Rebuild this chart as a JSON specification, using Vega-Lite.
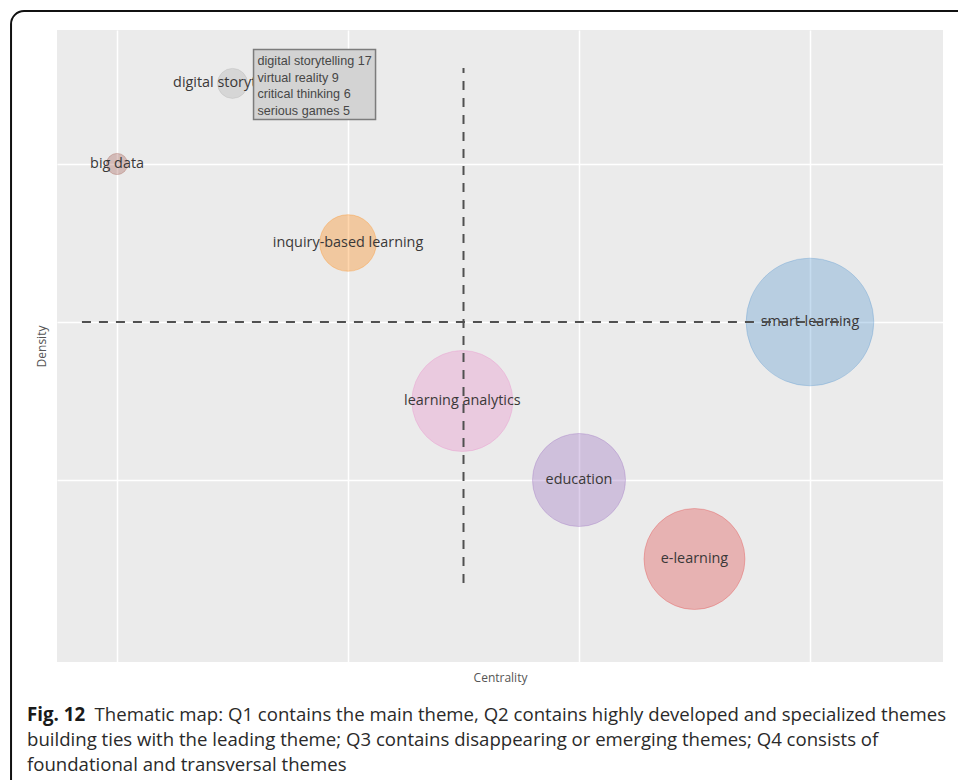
{
  "$schema": "https://vega.github.io/schema/vega-lite/v6.json",
  "width": 886,
  "height": 632,
  "autosize": {"type": "none"},
  "padding": {"left": 57, "top": 30, "right": 15, "bottom": 118},
  "background": "#ffffff",
  "config": {
    "view": {"fill": "#ebebeb", "stroke": null},
    "axis": {
      "grid": true, "gridColor": "#ffffff", "gridWidth": 1.5,
      "ticks": false, "labels": false, "domain": false,
      "titleFont": "Open Sans", "titleFontSize": 12, "titleFontWeight": "normal", "titleColor": "#555555"
    }
  },
  "title": {
    "text": "Fig. 12",
    "subtitle": [
      "\u200b\u00a0\u00a0\u00a0\u00a0\u00a0\u00a0\u00a0\u00a0\u00a0\u00a0\u00a0\u00a0\u00a0\u00a0Thematic map: Q1 contains the main theme, Q2 contains highly developed and specialized themes",
      "building ties with the leading theme; Q3 contains disappearing or emerging themes; Q4 consists of",
      "foundational and transversal themes"
    ],
    "orient": "bottom", "anchor": "start", "frame": "group",
    "dx": -30, "offset": -91,
    "font": "Open Sans", "fontSize": 18.7, "fontWeight": "bold", "color": "#1a1a1a",
    "subtitleFont": "Open Sans", "subtitleFontSize": 18.6, "subtitleFontWeight": "normal",
    "subtitleColor": "#2a2a2a", "subtitleLineHeight": 25, "subtitlePadding": -19
  },
  "datasets": {
    "themes": [
      {"theme": "smart-learning", "centrality": 3.0, "density": 0.0, "freq": 326},
      {"theme": "learning analytics", "centrality": 1.495, "density": -0.5, "freq": 204},
      {"theme": "education", "centrality": 2.0, "density": -1.0, "freq": 173},
      {"theme": "e-learning", "centrality": 2.5, "density": -1.5, "freq": 204},
      {"theme": "inquiry-based learning", "centrality": 1.0, "density": 0.5, "freq": 64},
      {"theme": "digital storytelling", "centrality": 0.5, "density": 1.51, "freq": 18,
       "top_words": "digital storytelling 17\nvirtual reality 9\ncritical thinking 6\nserious games 5"},
      {"theme": "big data", "centrality": 0.0, "density": 1.0, "freq": 9}
    ],
    "vline": [{"centrality": 1.5, "density_low": -1.652, "density_high": 1.608}],
    "hline": [{"density": 0.0, "centrality_low": -0.152, "centrality_high": 3.17}]
  },
  "layer": [
    {
      "data": {"values": [{}]},
      "mark": {"type": "rect", "fill": null, "stroke": "#111111", "strokeWidth": 2, "cornerRadius": 13, "clip": false},
      "encoding": {
        "x": {"datum": -0.459, "type": "quantitative", "scale": {"domain": [-0.26, 3.576], "nice": false, "zero": false},
              "axis": {"values": [0, 1, 2, 3], "title": "Centrality", "titlePadding": 10}},
        "x2": {"datum": 3.8},
        "y": {"datum": 1.968, "type": "quantitative", "scale": {"domain": [-2.152, 1.848], "nice": false, "zero": false},
              "axis": {"values": [-1, 0, 1], "title": "Density", "titlePadding": 9}},
        "y2": {"datum": -3.0}
      }
    },
    {
      "data": {"name": "themes"},
      "mark": {"type": "circle", "fillOpacity": 0.32, "strokeOpacity": 0.3, "strokeWidth": 1, "stroked": true},
      "encoding": {
        "x": {"field": "centrality", "type": "quantitative", "scale": {"domain": [-0.26, 3.576], "nice": false, "zero": false}},
        "y": {"field": "density", "type": "quantitative", "scale": {"domain": [-2.152, 1.848], "nice": false, "zero": false}},
        "size": {"field": "freq", "type": "quantitative", "scale": {"domain": [0, 400], "range": [0, 20000]}, "legend": null},
        "color": {"field": "theme", "type": "nominal", "legend": null,
          "scale": {
            "domain": ["smart-learning", "learning analytics", "education", "e-learning", "inquiry-based learning", "digital storytelling", "big data"],
            "range": ["#4f93cc", "#e987c8", "#9467bd", "#e03a3c", "#ff8000", "#acacac", "#a0554a"]
          }},
        "stroke": {"field": "theme", "type": "nominal", "legend": null,
          "scale": {
            "domain": ["smart-learning", "learning analytics", "education", "e-learning", "inquiry-based learning", "digital storytelling", "big data"],
            "range": ["#4f93cc", "#e987c8", "#9467bd", "#e03a3c", "#ff8000", "#acacac", "#a0554a"]
          }}
      }
    },
    {
      "data": {"name": "themes"},
      "mark": {"type": "text", "font": "Open Sans", "fontSize": 14.4, "color": "#3a3838", "align": "center", "baseline": "middle"},
      "encoding": {
        "x": {"field": "centrality", "type": "quantitative"},
        "y": {"field": "density", "type": "quantitative"},
        "text": {"field": "theme", "type": "nominal"}
      }
    },
    {
      "data": {"name": "vline"},
      "mark": {"type": "rule", "color": "#505050", "strokeWidth": 2, "strokeDash": [9, 8]},
      "encoding": {
        "x": {"field": "centrality", "type": "quantitative"},
        "y": {"field": "density_low", "type": "quantitative"},
        "y2": {"field": "density_high"}
      }
    },
    {
      "data": {"name": "hline"},
      "mark": {"type": "rule", "color": "#505050", "strokeWidth": 2, "strokeDash": [9, 8]},
      "encoding": {
        "y": {"field": "density", "type": "quantitative"},
        "x": {"field": "centrality_low", "type": "quantitative"},
        "x2": {"field": "centrality_high"}
      }
    },
    {
      "data": {"name": "themes"},
      "transform": [{"filter": "datum.theme === 'digital storytelling'"}],
      "mark": {"type": "rect", "fill": "#d3d3d3", "stroke": "#7c7c7c", "strokeWidth": 1.5,
               "xOffset": 21, "x2Offset": 143, "yOffset": -34, "y2Offset": 36},
      "encoding": {
        "x": {"field": "centrality", "type": "quantitative"},
        "x2": {"field": "centrality"},
        "y": {"field": "density", "type": "quantitative"},
        "y2": {"field": "density"}
      }
    },
    {
      "data": {"name": "themes"},
      "transform": [{"filter": "datum.theme === 'digital storytelling'"}],
      "mark": {"type": "text", "font": "Liberation Sans", "fontSize": 12.6, "color": "#474747",
               "align": "left", "baseline": "top", "lineBreak": "\n", "lineHeight": 16.7, "dx": 25, "dy": -28.5},
      "encoding": {
        "x": {"field": "centrality", "type": "quantitative"},
        "y": {"field": "density", "type": "quantitative"},
        "text": {"field": "top_words", "type": "nominal"}
      }
    }
  ]
}
